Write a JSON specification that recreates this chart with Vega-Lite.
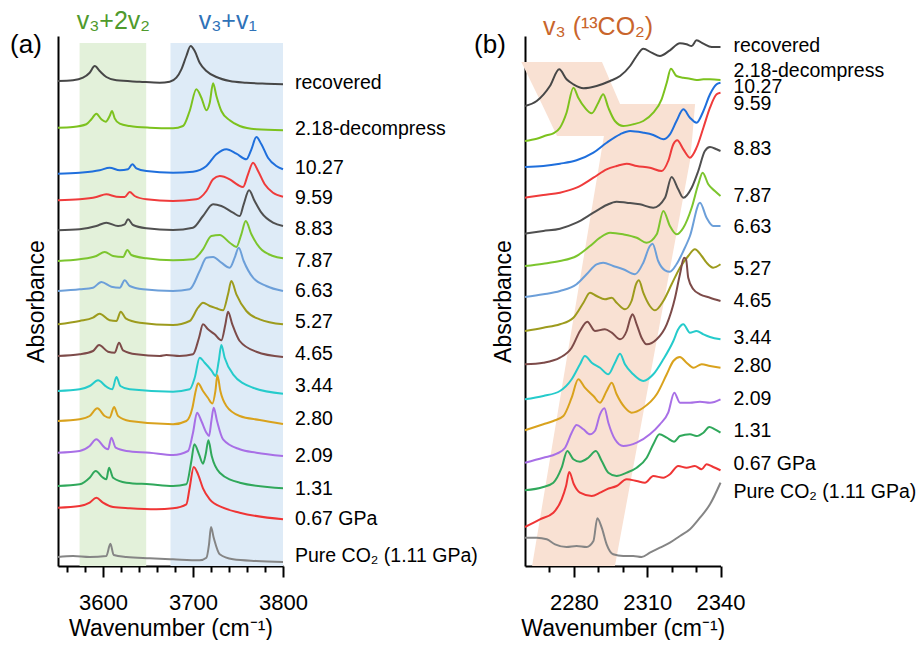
{
"$schema": "https://vega.github.io/schema/vega-lite/v6.json",
"background": "white",
"padding": {"left": 10, "top": 8, "right": 5, "bottom": 0},
"bounds": "flush",
"spacing": 242,
"config": {
 "view": {"stroke": null},
 "font": "Liberation Sans",
 "axis": {"domainColor": "black", "domainWidth": 2, "tickColor": "black", "tickWidth": 2, "labelFont": "Liberation Sans", "labelFontSize": 22, "labelColor": "black", "titleFont": "Liberation Sans", "titleFontSize": 23, "titleFontWeight": "normal", "titleColor": "black", "grid": false, "labelFlush": false, "labelOverlap": false, "labelBound": false}
},
"resolve": {"scale": {"x": "independent", "y": "independent", "color": "independent", "fill": "independent"}},
"datasets": {
 "bandsA": [{"x1": 3574, "x2": 3648, "y1": 0, "y2": 523, "c": "#e3f1da"}, {"x1": 3675, "x2": 3800, "y1": 0, "y2": 523, "c": "#deebf7"}],
 "titA": [{"t": "v₃+2v₂", "x": 3611.5, "y": 537, "c": "#4f9a2c"}, {"t": "v₃+v₁", "x": 3738.6, "y": 537, "c": "#2f72b8"}],
 "labA": [
  {"t": "recovered", "y": 483}, {"t": "2.18-decompress", "y": 437}, {"t": "10.27", "y": 398}, {"t": "9.59", "y": 368}, {"t": "8.83", "y": 337}, {"t": "7.87", "y": 305}, {"t": "6.63", "y": 275}, {"t": "5.27", "y": 244}, {"t": "4.65", "y": 212}, {"t": "3.44", "y": 180}, {"t": "2.80", "y": 147}, {"t": "2.09", "y": 110}, {"t": "1.31", "y": 77}, {"t": "0.67 GPa", "y": 47}, {"t": "Pure CO₂ (1.11 GPa)", "y": 10}],
 "labB": [
  {"t": "recovered", "y": 520}, {"t": "2.18-decompress", "y": 495}, {"t": "10.27", "y": 479}, {"t": "9.59", "y": 462}, {"t": "8.83", "y": 417}, {"t": "7.87", "y": 370}, {"t": "6.63", "y": 339}, {"t": "5.27", "y": 297}, {"t": "4.65", "y": 265}, {"t": "3.44", "y": 228}, {"t": "2.80", "y": 200}, {"t": "2.09", "y": 167}, {"t": "1.31", "y": 135}, {"t": "0.67 GPa", "y": 102}, {"t": "Pure CO₂ (1.11 GPa)", "y": 74}],
 "titB": [{"t": "v₃ (¹³CO₂)", "x": 2289.9, "y": 531, "c": "#c9652c"}],
 "polyB": [
  {"y": 504, "xl": 2258.5, "xr": 2291.5},
  {"y": 462.01, "xl": 2266.9, "xr": 2298.9},
  {"y": 461.99, "xl": 2266.9, "xr": 2329.6},
  {"y": 430.01, "xl": 2273.1, "xr": 2328.5},
  {"y": 429.99, "xl": 2292.3, "xr": 2328.5},
  {"y": 405, "xl": 2290.6, "xr": 2327.5},
  {"y": 0, "xl": 2262.9, "xr": 2296.8}],
 "a": [
  {"s":"rec","x":3550,"y":485},{"s":"rec","x":3566.7,"y":485.7},{"s":"rec","x":3577.8,"y":488.3},{"s":"rec","x":3585.2,"y":493.3},{"s":"rec","x":3590.8,"y":500},{"s":"rec","x":3596.3,"y":495},{"s":"rec","x":3603.7,"y":489},{"s":"rec","x":3614.9,"y":485.7},{"s":"rec","x":3640.8,"y":484.3},{"s":"rec","x":3663,"y":483.3},{"s":"rec","x":3674.1,"y":484.3},{"s":"rec","x":3681.5,"y":488.3},{"s":"rec","x":3687.1,"y":496.7},{"s":"rec","x":3692.6,"y":510},{"s":"rec","x":3697.4,"y":520},{"s":"rec","x":3701.9,"y":515},{"s":"rec","x":3707.4,"y":503.3},{"s":"rec","x":3714.9,"y":495},{"s":"rec","x":3726,"y":489},{"s":"rec","x":3740.8,"y":485},{"s":"rec","x":3759.3,"y":483.3},{"s":"rec","x":3781.5,"y":482.3},{"s":"rec","x":3800,"y":481.7},
  {"s":"dec","x":3550,"y":438.3},{"s":"dec","x":3566.7,"y":439},{"s":"dec","x":3581.5,"y":441.7},{"s":"dec","x":3587.1,"y":446.7},{"s":"dec","x":3592.6,"y":452.3},{"s":"dec","x":3598.2,"y":446.7},{"s":"dec","x":3603,"y":444.3},{"s":"dec","x":3607.4,"y":450},{"s":"dec","x":3610,"y":455},{"s":"dec","x":3613,"y":447.7},{"s":"dec","x":3618.6,"y":442.3},{"s":"dec","x":3629.7,"y":440},{"s":"dec","x":3651.9,"y":438.3},{"s":"dec","x":3677.8,"y":437.7},{"s":"dec","x":3688.9,"y":440},{"s":"dec","x":3696.3,"y":455},{"s":"dec","x":3703.7,"y":476.7},{"s":"dec","x":3709.3,"y":468.3},{"s":"dec","x":3714.9,"y":455.7},{"s":"dec","x":3718.6,"y":463.3},{"s":"dec","x":3722.3,"y":482.7},{"s":"dec","x":3726,"y":470},{"s":"dec","x":3731.5,"y":455},{"s":"dec","x":3740.8,"y":445.7},{"s":"dec","x":3751.9,"y":440},{"s":"dec","x":3770.4,"y":436.7},{"s":"dec","x":3800,"y":435.7},
  {"s":"p1027","x":3550,"y":392.3},{"s":"p1027","x":3574.1,"y":393.3},{"s":"p1027","x":3596.3,"y":395.7},{"s":"p1027","x":3607.4,"y":398.3},{"s":"p1027","x":3618.6,"y":395.7},{"s":"p1027","x":3627.8,"y":396.7},{"s":"p1027","x":3632.6,"y":401.7},{"s":"p1027","x":3637.1,"y":397.7},{"s":"p1027","x":3648.2,"y":395},{"s":"p1027","x":3677.8,"y":393.3},{"s":"p1027","x":3700,"y":394.3},{"s":"p1027","x":3714.9,"y":400},{"s":"p1027","x":3726,"y":411.7},{"s":"p1027","x":3737.1,"y":416.7},{"s":"p1027","x":3748.2,"y":412.3},{"s":"p1027","x":3759.3,"y":406.7},{"s":"p1027","x":3764.9,"y":416.7},{"s":"p1027","x":3770.4,"y":429},{"s":"p1027","x":3776,"y":421.7},{"s":"p1027","x":3783.3,"y":408.3},{"s":"p1027","x":3792.6,"y":400},{"s":"p1027","x":3800,"y":396.7},
  {"s":"p959","x":3550,"y":365.7},{"s":"p959","x":3574.1,"y":366.7},{"s":"p959","x":3592.6,"y":369},{"s":"p959","x":3603.7,"y":371.7},{"s":"p959","x":3614.9,"y":369.3},{"s":"p959","x":3624.1,"y":369},{"s":"p959","x":3629.7,"y":374},{"s":"p959","x":3635.2,"y":370},{"s":"p959","x":3648.2,"y":366.7},{"s":"p959","x":3677.8,"y":365},{"s":"p959","x":3703.7,"y":366.7},{"s":"p959","x":3714.9,"y":375},{"s":"p959","x":3722.3,"y":386.7},{"s":"p959","x":3729.7,"y":390},{"s":"p959","x":3740.8,"y":386.7},{"s":"p959","x":3750,"y":381},{"s":"p959","x":3755.6,"y":379},{"s":"p959","x":3761.1,"y":391.7},{"s":"p959","x":3766.7,"y":403.3},{"s":"p959","x":3772.3,"y":395},{"s":"p959","x":3779.7,"y":381.7},{"s":"p959","x":3788.9,"y":373.3},{"s":"p959","x":3800,"y":369.3},
  {"s":"p883","x":3550,"y":335.7},{"s":"p883","x":3574.1,"y":336.7},{"s":"p883","x":3592.6,"y":340},{"s":"p883","x":3603.7,"y":343.3},{"s":"p883","x":3616.7,"y":340},{"s":"p883","x":3624.1,"y":341.7},{"s":"p883","x":3627.8,"y":346.7},{"s":"p883","x":3633.4,"y":341},{"s":"p883","x":3648.2,"y":337.7},{"s":"p883","x":3677.8,"y":336},{"s":"p883","x":3700,"y":338.3},{"s":"p883","x":3711.1,"y":350},{"s":"p883","x":3722.3,"y":361.7},{"s":"p883","x":3731.5,"y":360},{"s":"p883","x":3744.5,"y":353.3},{"s":"p883","x":3751.9,"y":350},{"s":"p883","x":3756.3,"y":361.7},{"s":"p883","x":3762.3,"y":375.7},{"s":"p883","x":3768.5,"y":365},{"s":"p883","x":3776,"y":353.3},{"s":"p883","x":3788.9,"y":343.3},{"s":"p883","x":3800,"y":340},
  {"s":"p787","x":3550,"y":305},{"s":"p787","x":3574.1,"y":306.7},{"s":"p787","x":3592.6,"y":310},{"s":"p787","x":3601.9,"y":314},{"s":"p787","x":3611.2,"y":310},{"s":"p787","x":3622.3,"y":309},{"s":"p787","x":3627.1,"y":316},{"s":"p787","x":3631.5,"y":311},{"s":"p787","x":3648.2,"y":307.7},{"s":"p787","x":3677.8,"y":305.7},{"s":"p787","x":3700,"y":306.7},{"s":"p787","x":3711.1,"y":316.7},{"s":"p787","x":3720.4,"y":330},{"s":"p787","x":3729.7,"y":331},{"s":"p787","x":3740.8,"y":323.3},{"s":"p787","x":3748.2,"y":319},{"s":"p787","x":3753.7,"y":331.7},{"s":"p787","x":3758.6,"y":345},{"s":"p787","x":3764.9,"y":331.7},{"s":"p787","x":3774.1,"y":318.3},{"s":"p787","x":3788.9,"y":310},{"s":"p787","x":3800,"y":307.7},
  {"s":"p663","x":3550,"y":275},{"s":"p663","x":3574.1,"y":276.7},{"s":"p663","x":3588.9,"y":278.3},{"s":"p663","x":3598.2,"y":284},{"s":"p663","x":3609.3,"y":279.3},{"s":"p663","x":3618.6,"y":278.3},{"s":"p663","x":3624.1,"y":285.7},{"s":"p663","x":3629.7,"y":280},{"s":"p663","x":3644.5,"y":276.7},{"s":"p663","x":3677.8,"y":275},{"s":"p663","x":3696.3,"y":276.7},{"s":"p663","x":3707.4,"y":295},{"s":"p663","x":3714.9,"y":308.3},{"s":"p663","x":3722.3,"y":309},{"s":"p663","x":3731.5,"y":303.3},{"s":"p663","x":3740.8,"y":298.3},{"s":"p663","x":3746.3,"y":308.3},{"s":"p663","x":3750.8,"y":318.3},{"s":"p663","x":3756.3,"y":305},{"s":"p663","x":3766.7,"y":288.3},{"s":"p663","x":3781.5,"y":280},{"s":"p663","x":3800,"y":275},
  {"s":"p527","x":3550,"y":241.7},{"s":"p527","x":3574.1,"y":245},{"s":"p527","x":3588.9,"y":248.3},{"s":"p527","x":3596.3,"y":252.3},{"s":"p527","x":3607.4,"y":245.7},{"s":"p527","x":3614.9,"y":245},{"s":"p527","x":3619.7,"y":254.3},{"s":"p527","x":3625.2,"y":247.7},{"s":"p527","x":3640.8,"y":243.3},{"s":"p527","x":3677.8,"y":241},{"s":"p527","x":3696.3,"y":245},{"s":"p527","x":3705.6,"y":258.3},{"s":"p527","x":3711.1,"y":263.3},{"s":"p527","x":3718.6,"y":260},{"s":"p527","x":3726,"y":257.7},{"s":"p527","x":3733.4,"y":255.7},{"s":"p527","x":3738.9,"y":271.7},{"s":"p527","x":3742.6,"y":285},{"s":"p527","x":3748.2,"y":271.7},{"s":"p527","x":3759.3,"y":255},{"s":"p527","x":3774.1,"y":246.7},{"s":"p527","x":3800,"y":241.7},
  {"s":"p465","x":3550,"y":210},{"s":"p465","x":3574.1,"y":211.7},{"s":"p465","x":3588.9,"y":215},{"s":"p465","x":3595.6,"y":221},{"s":"p465","x":3605.6,"y":214.3},{"s":"p465","x":3613,"y":213.3},{"s":"p465","x":3617.8,"y":223.3},{"s":"p465","x":3622.3,"y":215.7},{"s":"p465","x":3637.1,"y":211.7},{"s":"p465","x":3663,"y":210},{"s":"p465","x":3670.4,"y":211},{"s":"p465","x":3685.2,"y":210},{"s":"p465","x":3700,"y":211.7},{"s":"p465","x":3706.7,"y":228.3},{"s":"p465","x":3711.1,"y":241.7},{"s":"p465","x":3716.7,"y":236.7},{"s":"p465","x":3724.1,"y":231.7},{"s":"p465","x":3731.5,"y":225.7},{"s":"p465","x":3736,"y":241.7},{"s":"p465","x":3738.9,"y":254.3},{"s":"p465","x":3743.7,"y":241.7},{"s":"p465","x":3751.9,"y":225},{"s":"p465","x":3770.4,"y":214.3},{"s":"p465","x":3800,"y":209},
  {"s":"p344","x":3550,"y":175},{"s":"p344","x":3574.1,"y":176.7},{"s":"p344","x":3585.2,"y":180},{"s":"p344","x":3594.5,"y":185.7},{"s":"p344","x":3603.7,"y":179.3},{"s":"p344","x":3610.4,"y":176.7},{"s":"p344","x":3614.9,"y":189},{"s":"p344","x":3619.3,"y":180},{"s":"p344","x":3629.7,"y":176.7},{"s":"p344","x":3677.8,"y":174.3},{"s":"p344","x":3696.3,"y":176.7},{"s":"p344","x":3701.9,"y":188.3},{"s":"p344","x":3707.4,"y":208.3},{"s":"p344","x":3713,"y":203.3},{"s":"p344","x":3720.4,"y":195.7},{"s":"p344","x":3725.2,"y":190},{"s":"p344","x":3728.6,"y":205},{"s":"p344","x":3731.5,"y":221},{"s":"p344","x":3735.2,"y":208.3},{"s":"p344","x":3744.5,"y":191.7},{"s":"p344","x":3766.7,"y":178.3},{"s":"p344","x":3800,"y":172.3},
  {"s":"p280","x":3550,"y":145},{"s":"p280","x":3574.1,"y":146.7},{"s":"p280","x":3585.2,"y":150},{"s":"p280","x":3593.7,"y":157.7},{"s":"p280","x":3601.9,"y":150},{"s":"p280","x":3607.4,"y":148.3},{"s":"p280","x":3612.3,"y":159},{"s":"p280","x":3616.7,"y":150},{"s":"p280","x":3629.7,"y":145},{"s":"p280","x":3677.8,"y":141.7},{"s":"p280","x":3692.6,"y":145},{"s":"p280","x":3699.3,"y":158},{"s":"p280","x":3703,"y":175},{"s":"p280","x":3705.6,"y":182.7},{"s":"p280","x":3711.1,"y":175},{"s":"p280","x":3716.7,"y":168},{"s":"p280","x":3721.5,"y":162.5},{"s":"p280","x":3724.9,"y":175},{"s":"p280","x":3727.1,"y":190.7},{"s":"p280","x":3730.4,"y":175},{"s":"p280","x":3737.1,"y":160},{"s":"p280","x":3751.9,"y":150},{"s":"p280","x":3774.1,"y":146},{"s":"p280","x":3800,"y":142},
  {"s":"p209","x":3550,"y":113.3},{"s":"p209","x":3574.1,"y":115},{"s":"p209","x":3585.2,"y":120},{"s":"p209","x":3592.6,"y":126.7},{"s":"p209","x":3601.9,"y":118.3},{"s":"p209","x":3605.6,"y":116.7},{"s":"p209","x":3609.3,"y":128.3},{"s":"p209","x":3614.1,"y":118.3},{"s":"p209","x":3626,"y":115},{"s":"p209","x":3651.9,"y":113.3},{"s":"p209","x":3677.8,"y":111},{"s":"p209","x":3694.5,"y":115},{"s":"p209","x":3700,"y":133.3},{"s":"p209","x":3704.5,"y":153.3},{"s":"p209","x":3709.3,"y":145},{"s":"p209","x":3714.9,"y":133.3},{"s":"p209","x":3717.8,"y":130},{"s":"p209","x":3720.4,"y":145},{"s":"p209","x":3723,"y":158.3},{"s":"p209","x":3726.7,"y":145},{"s":"p209","x":3733.4,"y":126.7},{"s":"p209","x":3751.9,"y":116.7},{"s":"p209","x":3770.4,"y":113.3},{"s":"p209","x":3800,"y":110},
  {"s":"p131","x":3550,"y":80},{"s":"p131","x":3574.1,"y":81.7},{"s":"p131","x":3585.2,"y":88.3},{"s":"p131","x":3591.9,"y":95},{"s":"p131","x":3600,"y":88.3},{"s":"p131","x":3603.7,"y":86.7},{"s":"p131","x":3606.7,"y":98.3},{"s":"p131","x":3611.2,"y":88.3},{"s":"p131","x":3626,"y":83.3},{"s":"p131","x":3651.9,"y":81.7},{"s":"p131","x":3677.8,"y":80},{"s":"p131","x":3692.6,"y":81.7},{"s":"p131","x":3698.2,"y":105},{"s":"p131","x":3701.5,"y":121.7},{"s":"p131","x":3706.7,"y":111.7},{"s":"p131","x":3711.1,"y":102.3},{"s":"p131","x":3714.1,"y":111.7},{"s":"p131","x":3717.1,"y":125.7},{"s":"p131","x":3720.8,"y":110},{"s":"p131","x":3729.7,"y":93.3},{"s":"p131","x":3751.9,"y":83.3},{"s":"p131","x":3800,"y":77.7},
  {"s":"p067","x":3550,"y":58.3},{"s":"p067","x":3574.1,"y":60},{"s":"p067","x":3585.2,"y":63.3},{"s":"p067","x":3592.6,"y":68.3},{"s":"p067","x":3600,"y":63.3},{"s":"p067","x":3611.2,"y":59},{"s":"p067","x":3629.7,"y":57.7},{"s":"p067","x":3659.3,"y":56.7},{"s":"p067","x":3677.8,"y":57.7},{"s":"p067","x":3692.6,"y":61.7},{"s":"p067","x":3696.3,"y":78.3},{"s":"p067","x":3700.8,"y":99},{"s":"p067","x":3705.6,"y":91.7},{"s":"p067","x":3711.1,"y":77.7},{"s":"p067","x":3718.6,"y":66.7},{"s":"p067","x":3733.4,"y":58.3},{"s":"p067","x":3751.9,"y":53.3},{"s":"p067","x":3800,"y":46.7},
  {"s":"pure","x":3550,"y":9},{"s":"pure","x":3566.7,"y":10},{"s":"pure","x":3585.2,"y":9},{"s":"pure","x":3603.7,"y":10},{"s":"pure","x":3608.2,"y":22.3},{"s":"pure","x":3611.9,"y":11},{"s":"pure","x":3626,"y":9},{"s":"pure","x":3651.9,"y":7.7},{"s":"pure","x":3677.8,"y":6.7},{"s":"pure","x":3707.4,"y":5.7},{"s":"pure","x":3714.9,"y":8.3},{"s":"pure","x":3717.8,"y":21.7},{"s":"pure","x":3720,"y":39},{"s":"pure","x":3723,"y":28.3},{"s":"pure","x":3729.7,"y":11.7},{"s":"pure","x":3744.5,"y":6.7},{"s":"pure","x":3770.4,"y":5},{"s":"pure","x":3800,"y":4}
 ],
 "b": [
  {"s":"rec","x":2260,"y":460},{"s":"rec","x":2264.8,"y":465},{"s":"rec","x":2270.2,"y":480},{"s":"rec","x":2274,"y":496.7},{"s":"rec","x":2277,"y":486.7},{"s":"rec","x":2279.8,"y":481.7},{"s":"rec","x":2283.9,"y":477.7},{"s":"rec","x":2289.3,"y":480},{"s":"rec","x":2294.8,"y":485},{"s":"rec","x":2298.9,"y":490},{"s":"rec","x":2303,"y":500},{"s":"rec","x":2305.7,"y":510},{"s":"rec","x":2308.4,"y":517.3},{"s":"rec","x":2311.8,"y":513.3},{"s":"rec","x":2315.2,"y":510},{"s":"rec","x":2319.3,"y":515.7},{"s":"rec","x":2323.4,"y":522.7},{"s":"rec","x":2326.1,"y":521.7},{"s":"rec","x":2328.2,"y":520},{"s":"rec","x":2330.2,"y":525.7},{"s":"rec","x":2333,"y":522.3},{"s":"rec","x":2336.4,"y":519},{"s":"rec","x":2340,"y":519},
  {"s":"dec","x":2260,"y":425},{"s":"dec","x":2264.8,"y":427.3},{"s":"dec","x":2268.9,"y":430.7},{"s":"dec","x":2271.6,"y":432.7},{"s":"dec","x":2274.3,"y":438.3},{"s":"dec","x":2277,"y":453.3},{"s":"dec","x":2279.8,"y":478.3},{"s":"dec","x":2281.8,"y":468.3},{"s":"dec","x":2284.5,"y":458.3},{"s":"dec","x":2287.3,"y":452.7},{"s":"dec","x":2290,"y":463.3},{"s":"dec","x":2292,"y":471.7},{"s":"dec","x":2294.1,"y":458.3},{"s":"dec","x":2296.8,"y":445},{"s":"dec","x":2300.2,"y":440},{"s":"dec","x":2304.3,"y":441.7},{"s":"dec","x":2308.4,"y":445},{"s":"dec","x":2312.5,"y":453.3},{"s":"dec","x":2315.9,"y":466.7},{"s":"dec","x":2318,"y":483.3},{"s":"dec","x":2319.7,"y":497.3},{"s":"dec","x":2322,"y":490},{"s":"dec","x":2324.8,"y":488.3},{"s":"dec","x":2327.5,"y":487.3},{"s":"dec","x":2330.2,"y":486},{"s":"dec","x":2333,"y":486.7},{"s":"dec","x":2335.7,"y":486.7},{"s":"dec","x":2340,"y":486},
  {"s":"p1027","x":2260,"y":399},{"s":"p1027","x":2267.5,"y":400},{"s":"p1027","x":2274.3,"y":402.3},{"s":"p1027","x":2281.1,"y":405.7},{"s":"p1027","x":2288,"y":413.3},{"s":"p1027","x":2293.4,"y":423.3},{"s":"p1027","x":2298.9,"y":431.7},{"s":"p1027","x":2303,"y":435},{"s":"p1027","x":2308.4,"y":433.3},{"s":"p1027","x":2312.5,"y":431},{"s":"p1027","x":2316.6,"y":426.7},{"s":"p1027","x":2319.3,"y":431.7},{"s":"p1027","x":2322,"y":445},{"s":"p1027","x":2324.8,"y":456.7},{"s":"p1027","x":2327.5,"y":448.3},{"s":"p1027","x":2330.2,"y":443.3},{"s":"p1027","x":2333,"y":455},{"s":"p1027","x":2335.7,"y":471.7},{"s":"p1027","x":2338.4,"y":481.7},{"s":"p1027","x":2340,"y":483.3},
  {"s":"p959","x":2260,"y":368.3},{"s":"p959","x":2267.5,"y":371},{"s":"p959","x":2274.3,"y":373.3},{"s":"p959","x":2281.1,"y":378.3},{"s":"p959","x":2288,"y":388.3},{"s":"p959","x":2293.4,"y":396.7},{"s":"p959","x":2297.5,"y":400},{"s":"p959","x":2301.6,"y":402.3},{"s":"p959","x":2305.7,"y":400},{"s":"p959","x":2311.1,"y":398.3},{"s":"p959","x":2315.9,"y":395},{"s":"p959","x":2318.6,"y":405},{"s":"p959","x":2320.7,"y":421.7},{"s":"p959","x":2322.3,"y":425.7},{"s":"p959","x":2324.8,"y":416.7},{"s":"p959","x":2327.5,"y":408.3},{"s":"p959","x":2330.2,"y":418.3},{"s":"p959","x":2333,"y":438.3},{"s":"p959","x":2335.7,"y":458.3},{"s":"p959","x":2338.4,"y":471.7},{"s":"p959","x":2340,"y":473.3},
  {"s":"p883","x":2260,"y":332.3},{"s":"p883","x":2267.5,"y":335},{"s":"p883","x":2274.3,"y":337.3},{"s":"p883","x":2281.1,"y":343.3},{"s":"p883","x":2288,"y":353.3},{"s":"p883","x":2293.4,"y":361},{"s":"p883","x":2297.5,"y":364.3},{"s":"p883","x":2301.6,"y":363.3},{"s":"p883","x":2307,"y":361.7},{"s":"p883","x":2312.5,"y":358.3},{"s":"p883","x":2317.3,"y":368.3},{"s":"p883","x":2320,"y":389},{"s":"p883","x":2322.7,"y":376.7},{"s":"p883","x":2324.8,"y":368.3},{"s":"p883","x":2328.2,"y":378.3},{"s":"p883","x":2330.9,"y":395},{"s":"p883","x":2333.6,"y":415},{"s":"p883","x":2335.7,"y":419},{"s":"p883","x":2338.4,"y":416.7},{"s":"p883","x":2340,"y":415},
  {"s":"p787","x":2260,"y":300},{"s":"p787","x":2267.5,"y":302.3},{"s":"p787","x":2274.3,"y":305},{"s":"p787","x":2281.1,"y":310},{"s":"p787","x":2286.6,"y":320},{"s":"p787","x":2290.7,"y":328.3},{"s":"p787","x":2294.8,"y":333.3},{"s":"p787","x":2300.2,"y":331.7},{"s":"p787","x":2305.7,"y":328.3},{"s":"p787","x":2309.8,"y":323.3},{"s":"p787","x":2313.9,"y":331.7},{"s":"p787","x":2316.6,"y":355},{"s":"p787","x":2319.3,"y":340},{"s":"p787","x":2322,"y":331.7},{"s":"p787","x":2324.8,"y":338.3},{"s":"p787","x":2328.2,"y":358.3},{"s":"p787","x":2330.9,"y":381.7},{"s":"p787","x":2332.7,"y":393.3},{"s":"p787","x":2335,"y":381.7},{"s":"p787","x":2337.7,"y":375},{"s":"p787","x":2340,"y":370},
  {"s":"p663","x":2260,"y":269},{"s":"p663","x":2267.5,"y":271.7},{"s":"p663","x":2274.3,"y":275},{"s":"p663","x":2281.1,"y":281.7},{"s":"p663","x":2285.2,"y":291.7},{"s":"p663","x":2289.3,"y":301.7},{"s":"p663","x":2292,"y":303.3},{"s":"p663","x":2296.1,"y":300},{"s":"p663","x":2300.2,"y":296.7},{"s":"p663","x":2305,"y":291.7},{"s":"p663","x":2308.4,"y":303.3},{"s":"p663","x":2311.1,"y":320},{"s":"p663","x":2312.2,"y":322.3},{"s":"p663","x":2314.5,"y":305},{"s":"p663","x":2317.3,"y":295.7},{"s":"p663","x":2319.3,"y":294.3},{"s":"p663","x":2322,"y":301.7},{"s":"p663","x":2324.8,"y":315},{"s":"p663","x":2327.5,"y":330},{"s":"p663","x":2331.6,"y":363.3},{"s":"p663","x":2334.3,"y":348.3},{"s":"p663","x":2337,"y":340},{"s":"p663","x":2340,"y":340},
  {"s":"p527","x":2260,"y":235},{"s":"p527","x":2267.5,"y":238.3},{"s":"p527","x":2274.3,"y":241.7},{"s":"p527","x":2279.8,"y":248.3},{"s":"p527","x":2283.9,"y":263.3},{"s":"p527","x":2286.6,"y":273.3},{"s":"p527","x":2289.3,"y":270},{"s":"p527","x":2292.7,"y":266.7},{"s":"p527","x":2295.5,"y":268.3},{"s":"p527","x":2297.5,"y":263.3},{"s":"p527","x":2300.9,"y":256.7},{"s":"p527","x":2303.6,"y":265},{"s":"p527","x":2305.4,"y":281.7},{"s":"p527","x":2306.6,"y":285.7},{"s":"p527","x":2308.4,"y":273.3},{"s":"p527","x":2311.1,"y":260},{"s":"p527","x":2313.2,"y":255.7},{"s":"p527","x":2316.6,"y":265},{"s":"p527","x":2320,"y":281.7},{"s":"p527","x":2323.4,"y":298.3},{"s":"p527","x":2326.8,"y":310},{"s":"p527","x":2329.5,"y":316.7},{"s":"p527","x":2332.3,"y":310},{"s":"p527","x":2334.3,"y":303.3},{"s":"p527","x":2337,"y":298.3},{"s":"p527","x":2340,"y":301.7},
  {"s":"p465","x":2260,"y":201.7},{"s":"p465","x":2267.5,"y":203.3},{"s":"p465","x":2274.3,"y":208.3},{"s":"p465","x":2279.1,"y":218.3},{"s":"p465","x":2282.5,"y":235},{"s":"p465","x":2285.5,"y":244.3},{"s":"p465","x":2288.6,"y":235},{"s":"p465","x":2292.7,"y":236.7},{"s":"p465","x":2295.5,"y":233.3},{"s":"p465","x":2298.9,"y":226.7},{"s":"p465","x":2301.6,"y":235},{"s":"p465","x":2303.2,"y":248.3},{"s":"p465","x":2304,"y":251.7},{"s":"p465","x":2305.7,"y":241.7},{"s":"p465","x":2307.7,"y":228.3},{"s":"p465","x":2309.8,"y":221.7},{"s":"p465","x":2313.9,"y":226.7},{"s":"p465","x":2318,"y":241.7},{"s":"p465","x":2321.4,"y":268.3},{"s":"p465","x":2323.4,"y":291.7},{"s":"p465","x":2325.1,"y":308.3},{"s":"p465","x":2325.9,"y":306.7},{"s":"p465","x":2326.8,"y":288.3},{"s":"p465","x":2328.9,"y":276.7},{"s":"p465","x":2331.6,"y":271.7},{"s":"p465","x":2335.7,"y":268.3},{"s":"p465","x":2340,"y":265},
  {"s":"p344","x":2260,"y":166.7},{"s":"p344","x":2267.5,"y":170},{"s":"p344","x":2274.3,"y":175},{"s":"p344","x":2279.1,"y":186.7},{"s":"p344","x":2282.5,"y":201.7},{"s":"p344","x":2284.5,"y":210},{"s":"p344","x":2287.3,"y":203.3},{"s":"p344","x":2290.7,"y":198.3},{"s":"p344","x":2294.1,"y":191.7},{"s":"p344","x":2296.8,"y":203.3},{"s":"p344","x":2298.9,"y":212.3},{"s":"p344","x":2300.9,"y":201.7},{"s":"p344","x":2304.3,"y":191.7},{"s":"p344","x":2308.4,"y":185},{"s":"p344","x":2312.5,"y":191.7},{"s":"p344","x":2316.6,"y":206.7},{"s":"p344","x":2320.7,"y":225},{"s":"p344","x":2322.7,"y":236.7},{"s":"p344","x":2324.8,"y":241.7},{"s":"p344","x":2327.5,"y":233.3},{"s":"p344","x":2330.2,"y":235},{"s":"p344","x":2333,"y":231.7},{"s":"p344","x":2335.7,"y":229},{"s":"p344","x":2340,"y":226.7},
  {"s":"p280","x":2260,"y":135.7},{"s":"p280","x":2267.5,"y":141.7},{"s":"p280","x":2271.6,"y":145},{"s":"p280","x":2275.7,"y":150},{"s":"p280","x":2279.1,"y":168.3},{"s":"p280","x":2281.8,"y":186.7},{"s":"p280","x":2284.5,"y":178.3},{"s":"p280","x":2288,"y":170},{"s":"p280","x":2290.7,"y":163.3},{"s":"p280","x":2293.4,"y":175},{"s":"p280","x":2295.5,"y":183.3},{"s":"p280","x":2297.5,"y":171.7},{"s":"p280","x":2300.9,"y":158.3},{"s":"p280","x":2303.6,"y":153.3},{"s":"p280","x":2308.4,"y":158.3},{"s":"p280","x":2313.9,"y":171.7},{"s":"p280","x":2318,"y":191.7},{"s":"p280","x":2320.7,"y":205},{"s":"p280","x":2323.4,"y":209},{"s":"p280","x":2326.1,"y":203.3},{"s":"p280","x":2328.9,"y":198.3},{"s":"p280","x":2332.3,"y":201.7},{"s":"p280","x":2335.7,"y":200},{"s":"p280","x":2340,"y":198.3},
  {"s":"p209","x":2260,"y":103.3},{"s":"p209","x":2267.5,"y":108.3},{"s":"p209","x":2273,"y":112.3},{"s":"p209","x":2276.4,"y":118.3},{"s":"p209","x":2279.1,"y":133.3},{"s":"p209","x":2281.1,"y":141},{"s":"p209","x":2283.9,"y":136.7},{"s":"p209","x":2286.6,"y":131.7},{"s":"p209","x":2288.6,"y":135},{"s":"p209","x":2290.7,"y":151.7},{"s":"p209","x":2292.5,"y":157.7},{"s":"p209","x":2294.1,"y":143.3},{"s":"p209","x":2296.8,"y":126.7},{"s":"p209","x":2300.2,"y":120},{"s":"p209","x":2305.7,"y":123.3},{"s":"p209","x":2311.1,"y":131.7},{"s":"p209","x":2315.2,"y":141.7},{"s":"p209","x":2318.6,"y":153.3},{"s":"p209","x":2321.1,"y":173.3},{"s":"p209","x":2323.4,"y":163.3},{"s":"p209","x":2327.5,"y":163.3},{"s":"p209","x":2331.6,"y":164.3},{"s":"p209","x":2335.7,"y":163.3},{"s":"p209","x":2340,"y":166.7},
  {"s":"p131","x":2260,"y":75.7},{"s":"p131","x":2267.5,"y":79},{"s":"p131","x":2271.6,"y":83.3},{"s":"p131","x":2275,"y":98.3},{"s":"p131","x":2277.3,"y":115},{"s":"p131","x":2279.8,"y":106.7},{"s":"p131","x":2282.5,"y":104.3},{"s":"p131","x":2285.9,"y":108.3},{"s":"p131","x":2289,"y":115},{"s":"p131","x":2291.4,"y":105},{"s":"p131","x":2294.1,"y":93.3},{"s":"p131","x":2297.5,"y":90},{"s":"p131","x":2301.6,"y":93.3},{"s":"p131","x":2305.7,"y":98.3},{"s":"p131","x":2309.8,"y":108.3},{"s":"p131","x":2312.5,"y":121.7},{"s":"p131","x":2315,"y":131.7},{"s":"p131","x":2318,"y":128.3},{"s":"p131","x":2321,"y":124.3},{"s":"p131","x":2323.4,"y":130},{"s":"p131","x":2327.5,"y":131.7},{"s":"p131","x":2330.2,"y":130},{"s":"p131","x":2333,"y":133.3},{"s":"p131","x":2335.4,"y":139},{"s":"p131","x":2337.7,"y":136.7},{"s":"p131","x":2340,"y":133.3},
  {"s":"p067","x":2260,"y":39},{"s":"p067","x":2266.1,"y":46.7},{"s":"p067","x":2271.6,"y":53.3},{"s":"p067","x":2275,"y":66.7},{"s":"p067","x":2276.8,"y":80},{"s":"p067","x":2278.1,"y":94},{"s":"p067","x":2280,"y":81.7},{"s":"p067","x":2282.5,"y":73.3},{"s":"p067","x":2287.3,"y":70},{"s":"p067","x":2290.7,"y":73.3},{"s":"p067","x":2293.4,"y":76.7},{"s":"p067","x":2297.5,"y":80},{"s":"p067","x":2301.6,"y":86.7},{"s":"p067","x":2305.7,"y":85},{"s":"p067","x":2309.1,"y":83.3},{"s":"p067","x":2312.5,"y":90},{"s":"p067","x":2316.6,"y":88.3},{"s":"p067","x":2319.3,"y":91.7},{"s":"p067","x":2322.7,"y":100},{"s":"p067","x":2326.1,"y":98.3},{"s":"p067","x":2329.5,"y":100},{"s":"p067","x":2332.3,"y":96.7},{"s":"p067","x":2334.3,"y":101.7},{"s":"p067","x":2337,"y":99},{"s":"p067","x":2340,"y":95.7},
  {"s":"pure","x":2260,"y":28.3},{"s":"pure","x":2264.8,"y":28.3},{"s":"pure","x":2268.9,"y":26.7},{"s":"pure","x":2272.3,"y":21.7},{"s":"pure","x":2277,"y":19},{"s":"pure","x":2281.1,"y":20},{"s":"pure","x":2285.2,"y":19},{"s":"pure","x":2288,"y":25},{"s":"pure","x":2289.6,"y":47.7},{"s":"pure","x":2291.4,"y":38.3},{"s":"pure","x":2293.4,"y":21.7},{"s":"pure","x":2296.1,"y":11.7},{"s":"pure","x":2300.2,"y":10},{"s":"pure","x":2304.3,"y":10},{"s":"pure","x":2307.7,"y":9},{"s":"pure","x":2311.1,"y":13.3},{"s":"pure","x":2315.2,"y":18.3},{"s":"pure","x":2319.3,"y":23.3},{"s":"pure","x":2323.4,"y":30},{"s":"pure","x":2327.5,"y":36.7},{"s":"pure","x":2331.6,"y":48.3},{"s":"pure","x":2335.7,"y":61.7},{"s":"pure","x":2340,"y":83.3}
 ]
},
"hconcat": [
 {
  "width": 225, "height": 530,
  "resolve": {"axis": {"x": "independent"}},
  "layer": [
   {"data": {"name": "bandsA"}, "mark": {"type": "rect"},
    "encoding": {
     "x": {"field": "x1", "type": "quantitative", "scale": {"domain": [3550, 3800], "nice": false, "zero": false},
       "axis": {"orient": "bottom", "values": [3600, 3700, 3800], "format": "d", "tickSize": 11, "labelPadding": 15, "title": "Wavenumber (cm⁻¹)", "titlePadding": 4}},
     "x2": {"field": "x2"},
     "y": {"field": "y1", "type": "quantitative", "scale": {"domain": [0, 530], "nice": false, "zero": false}, "axis": {"title": "Absorbance", "ticks": false, "labels": false, "titlePadding": 10}},
     "y2": {"field": "y2"},
     "fill": {"field": "c", "type": "nominal", "scale": null}
    }},
   {"data": {"name": "a"}, "mark": {"type": "line", "strokeWidth": 2, "interpolate": "monotone"},
    "encoding": {
     "x": {"field": "x", "type": "quantitative", "axis": {"orient": "bottom", "values": [3560, 3580, 3620, 3640, 3660, 3680, 3720, 3740, 3760, 3780], "tickSize": 6, "labels": false, "domain": false, "title": null}},
     "y": {"field": "y", "type": "quantitative"},
     "color": {"field": "s", "type": "nominal", "legend": null, "scale": {"domain": ["rec", "dec", "p1027", "p959", "p883", "p787", "p663", "p527", "p465", "p344", "p280", "p209", "p131", "p067", "pure"], "range": ["#474747", "#7cc21e", "#1f6fdc", "#ef3b3b", "#505050", "#7cc52e", "#6c9fd9", "#9d9b1d", "#7d4b49", "#25cbcb", "#d9a21d", "#a86fe6", "#30a85b", "#ef3535", "#858585"]}}
    }},
   {"data": {"name": "labA"}, "mark": {"type": "text", "align": "left", "baseline": "middle", "dx": 12, "fontSize": 19.5, "color": "black"},
    "encoding": {"x": {"datum": 3800, "type": "quantitative", "axis": null}, "y": {"field": "y", "type": "quantitative"}, "text": {"field": "t"}}},
   {"data": {"name": "titA"}, "mark": {"type": "text", "align": "center", "baseline": "alphabetic", "fontSize": 25},
    "encoding": {"x": {"field": "x", "type": "quantitative", "axis": null}, "y": {"field": "y", "type": "quantitative"}, "text": {"field": "t"}, "fill": {"field": "c", "type": "nominal", "scale": null}}},
   {"data": {"values": [{"t": "(a)"}]}, "mark": {"type": "text", "align": "center", "baseline": "middle", "fontSize": 26, "dx": -32, "color": "black"},
    "encoding": {"x": {"datum": 3550, "type": "quantitative", "axis": null}, "y": {"datum": 521, "type": "quantitative"}, "text": {"field": "t"}}}
  ]
 },
 {
  "width": 195.5, "height": 530,
  "resolve": {"axis": {"x": "independent"}},
  "layer": [
   {"data": {"name": "polyB"}, "mark": {"type": "area", "orient": "horizontal", "color": "#f9e1d3"},
    "encoding": {
     "y": {"field": "y", "type": "quantitative", "scale": {"domain": [0, 530], "nice": false, "zero": false}, "axis": {"title": "Absorbance", "ticks": false, "labels": false, "titlePadding": 10}},
     "x": {"field": "xl", "type": "quantitative", "scale": {"domain": [2260, 2340], "nice": false, "zero": false},
       "axis": {"orient": "bottom", "values": [2280, 2310, 2340], "format": "d", "tickSize": 11, "labelPadding": 15, "title": "Wavenumber (cm⁻¹)", "titlePadding": 4}},
     "x2": {"field": "xr"}
    }},
   {"data": {"name": "b"}, "mark": {"type": "line", "strokeWidth": 2, "interpolate": "monotone"},
    "encoding": {
     "x": {"field": "x", "type": "quantitative", "axis": {"orient": "bottom", "values": [2270, 2290, 2300, 2320, 2330], "tickSize": 6, "labels": false, "domain": false, "title": null}},
     "y": {"field": "y", "type": "quantitative"},
     "color": {"field": "s", "type": "nominal", "legend": null, "scale": {"domain": ["rec", "dec", "p1027", "p959", "p883", "p787", "p663", "p527", "p465", "p344", "p280", "p209", "p131", "p067", "pure"], "range": ["#474747", "#7cc21e", "#1f6fdc", "#ef3b3b", "#505050", "#7cc52e", "#6c9fd9", "#9d9b1d", "#7d4b49", "#25cbcb", "#d9a21d", "#a86fe6", "#30a85b", "#ef3535", "#858585"]}}
    }},
   {"data": {"name": "labB"}, "mark": {"type": "text", "align": "left", "baseline": "middle", "dx": 13, "fontSize": 19.5, "color": "black"},
    "encoding": {"x": {"datum": 2340, "type": "quantitative", "axis": null}, "y": {"field": "y", "type": "quantitative"}, "text": {"field": "t"}}},
   {"data": {"name": "titB"}, "mark": {"type": "text", "align": "center", "baseline": "alphabetic", "fontSize": 25},
    "encoding": {"x": {"field": "x", "type": "quantitative", "axis": null}, "y": {"field": "y", "type": "quantitative"}, "text": {"field": "t"}, "fill": {"field": "c", "type": "nominal", "scale": null}}},
   {"data": {"values": [{"t": "(b)"}]}, "mark": {"type": "text", "align": "center", "baseline": "middle", "fontSize": 26, "dx": -35, "color": "black"},
    "encoding": {"x": {"datum": 2260, "type": "quantitative", "axis": null}, "y": {"datum": 521, "type": "quantitative"}, "text": {"field": "t"}}}
  ]
 }
]
}
